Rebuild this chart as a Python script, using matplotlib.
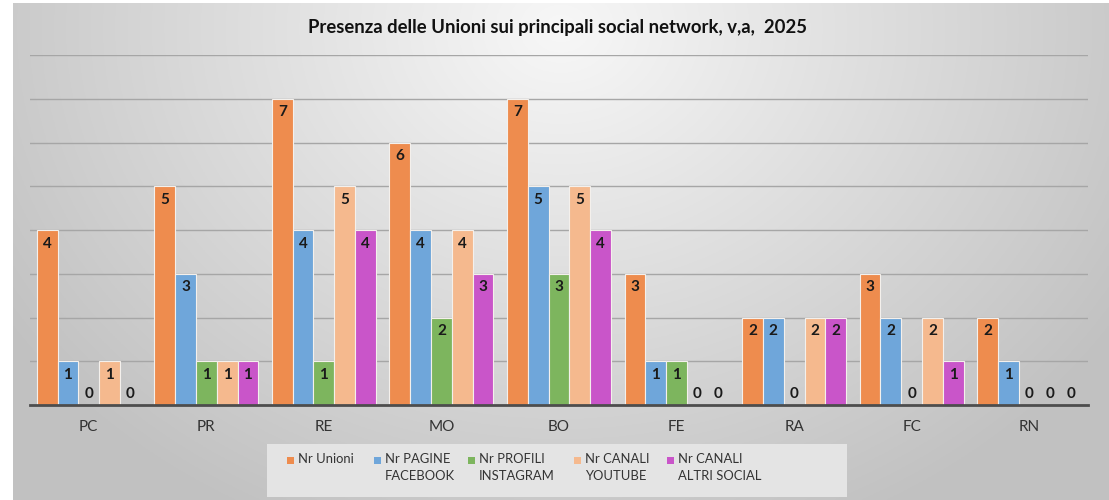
import numpy as np
import matplotlib.pyplot as plt
from matplotlib.patches import Rectangle

# Dati
province = ['PC', 'PR', 'RE', 'MO', 'BO', 'FE', 'RA', 'FC', 'RN']
serie = ['Nr Unioni', 'Nr PAGINE\nFACEBOOK', 'Nr PROFILI\nINSTAGRAM',
         'Nr CANALI\nYOUTUBE', 'Nr CANALI\nALTRI SOCIAL']
nr_unioni = [4, 5, 7, 6, 7, 3, 2, 3, 2]
nr_facebook = [1, 3, 4, 4, 5, 1, 2, 2, 1]
nr_instagram = [0, 1, 1, 2, 3, 1, 0, 0, 0]
nr_youtube = [1, 1, 5, 4, 5, 0, 2, 2, 0]
nr_altri = [0, 1, 4, 3, 4, 0, 2, 1, 0]
valori = [nr_unioni, nr_facebook, nr_instagram, nr_youtube, nr_altri]
colori = ['#EE8C4E', '#6FA6DA', '#7DB55E', '#F5B98E', '#C955C9']

plt.rcParams['font.family'] = ['Lato', 'DejaVu Sans']

W, H = 1109, 500
fig = plt.figure(figsize=(W / 100, H / 100), dpi=100)

# Sfondo con gradiente radiale
bg = fig.add_axes([13 / W, 0, 1 - 13 / W, 1 - 3 / H], zorder=-10)
yy, xx = np.mgrid[0:1:300j, 0:1:600j]
r = np.sqrt(((xx - 0.5) / 0.6) ** 2 + ((yy - 0.05) / 1.1) ** 2)
g = np.clip(0.97 - 0.21 * r, 0.76, 0.97)
bg.imshow(np.dstack([g, g, g]), aspect='auto', extent=[0, 1, 1, 0])
bg.axis('off')

ax = fig.add_axes([30 / W, 1 - 405 / H, 1058 / W, 350 / H])
ax.patch.set_alpha(0)

x = np.arange(len(province))
w = 0.177
for i, (vals, col) in enumerate(zip(valori, colori)):
    pos = x + (i - 2) * w
    ax.bar(pos, vals, w, color=col, edgecolor='#F4F0EC', linewidth=0.8, zorder=3)
    for p, v in zip(pos, vals):
        if v > 0:
            ax.text(p, v - 0.15, str(v), ha='center', va='top',
                    fontsize=11, fontweight='bold', color='#1A1A1A', zorder=4)
        else:
            ax.text(p, 0.1, str(v), ha='center', va='bottom',
                    fontsize=11, fontweight='bold', color='#1A1A1A', zorder=4)

ax.set_xlim(-0.5, len(province) - 0.5)
ax.set_ylim(0, 8)
ax.set_yticks(range(1, 9))
ax.yaxis.grid(True, color='#A6A6A6', linewidth=1.0, zorder=0)
ax.set_axisbelow(True)
ax.tick_params(axis='y', left=False, labelleft=False)
ax.tick_params(axis='x', bottom=False, pad=7, labelsize=11, colors='#333333')
ax.set_xticks(x)
ax.set_xticklabels(province)
for s in ['top', 'left', 'right']:
    ax.spines[s].set_visible(False)
ax.spines['bottom'].set_color('#4D4D4D')
ax.spines['bottom'].set_linewidth(2)
ax.spines['bottom'].set_zorder(5)

fig.text(557 / W, 1 - 28 / H,
         'Presenza delle Unioni sui principali social network, v,a,  2025',
         ha='center', va='center', fontsize=13.3, fontweight='bold', color='#111111')

# Legenda costruita a mano (quadratino allineato alla prima riga)
fig.patches.append(Rectangle((267 / W, 3 / H), 580 / W, 53 / H,
                             transform=fig.transFigure, facecolor='#E4E4E4',
                             edgecolor='none', zorder=1))
leg_x = [287, 374, 468, 574, 667]
for lx, lab, col in zip(leg_x, serie, colori):
    fig.patches.append(Rectangle((lx / W, (H - 464) / H), 7 / W, 7 / H,
                                 transform=fig.transFigure, facecolor=col,
                                 edgecolor='none', zorder=2))
    fig.text((lx + 11) / W, 1 - 453 / H, lab, ha='left', va='top',
             fontsize=9.4, color='#333333', linespacing=1.55, zorder=3)

fig.savefig('out.png', dpi=100)
